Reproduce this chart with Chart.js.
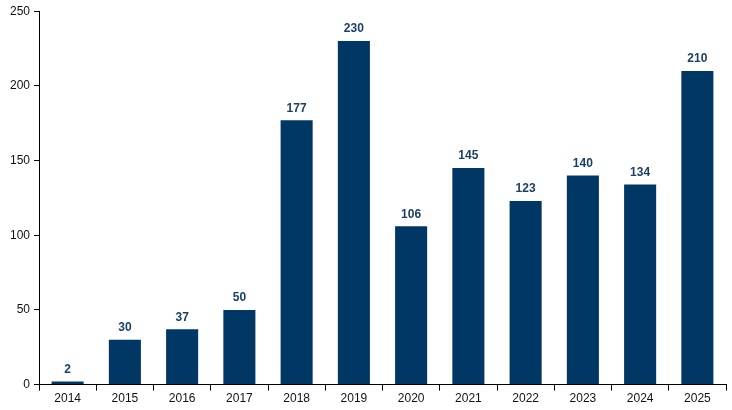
<!DOCTYPE html>
<html>
<head>
<meta charset="utf-8">
<script src="https://cdn.jsdelivr.net/npm/chart.js@4"></script>
<style>
  html, body { margin: 0; padding: 0; background: #fff; }
  #wrap { width: 732px; height: 410px; }
</style>
</head>
<body>
<div id="wrap"><canvas id="chart"></canvas></div>
<script>
// chart data
const years = ['2014', '2015', '2016', '2017', '2018', '2019', '2020', '2021', '2022', '2023', '2024', '2025'];
const counts = [2, 30, 37, 50, 177, 230, 106, 145, 123, 140, 134, 210];
const yTicks = [0, 50, 100, 150, 200, 250];

const navy = '#003764';

// draws the value above each bar
const valueLabels = {
  id: 'valueLabels',
  afterDatasetsDraw(chart) {
    const ctx = chart.ctx;
    const meta = chart.getDatasetMeta(0);
    ctx.save();
    ctx.font = 'bold 12px "Liberation Sans", Arial, sans-serif';
    ctx.fillStyle = '#1b3f66';
    ctx.textAlign = 'center';
    ctx.textBaseline = 'bottom';
    meta.data.forEach((bar, i) => {
      ctx.fillText(String(counts[i]), bar.x, bar.y - 6);
    });
    ctx.restore();
  }
};

const ctx = document.getElementById('chart').getContext('2d');
const chart = new Chart(ctx, {
  type: 'bar',
  data: {
    labels: years,
    datasets: [{
      data: counts,
      backgroundColor: navy,
      categoryPercentage: 1,
      barPercentage: 0.56
    }]
  },
  options: {
    responsive: true,
    maintainAspectRatio: false,
    animation: false,
    layout: { padding: { top: 5, right: 6, left: 0, bottom: 3 } },
    plugins: {
      legend: { display: false },
      tooltip: { enabled: false }
    },
    scales: {
      x: {
        grid: { drawOnChartArea: false, drawTicks: true, tickLength: 6, color: '#000', offset: true },
        border: { display: true, color: '#000', width: 1 },
        ticks: {
          color: '#111',
          font: { family: '"Liberation Sans", Arial, sans-serif', size: 12 },
          padding: 1,
          maxRotation: 0
        }
      },
      y: {
        min: 0,
        max: 250,
        afterBuildTicks(axis) {
          axis.ticks = yTicks.map(v => ({ value: v }));
        },
        afterFit(axis) {
          axis.width = 39;
        },
        grid: { drawOnChartArea: false, drawTicks: true, tickLength: 5, color: '#000' },
        border: { display: true, color: '#000', width: 1 },
        ticks: {
          color: '#111',
          font: { family: '"Liberation Sans", Arial, sans-serif', size: 12 },
          padding: 4
        }
      }
    }
  },
  plugins: [valueLabels]
});
</script>
</body>
</html>
